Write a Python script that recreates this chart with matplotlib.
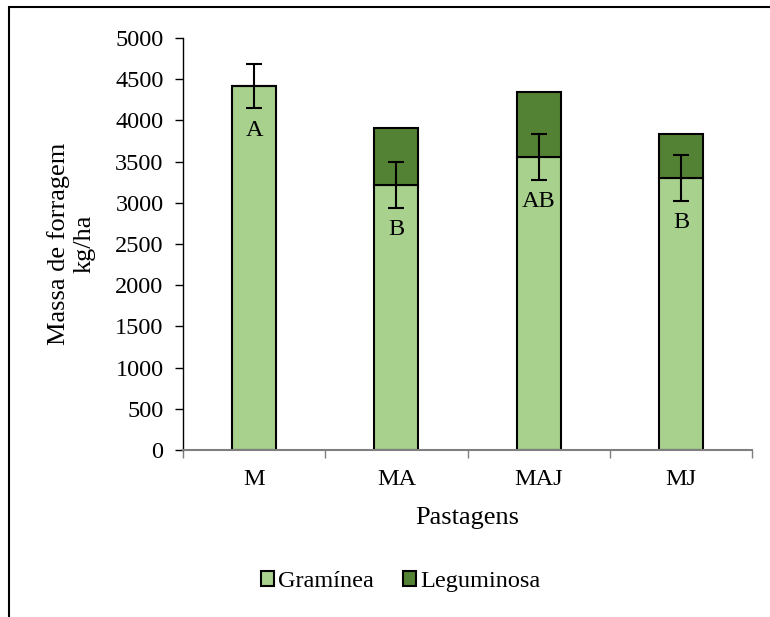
import numpy as np
import matplotlib.pyplot as plt
from matplotlib.patches import Rectangle

# Dados
pastagens = ['M', 'MA', 'MAJ', 'MJ']
graminea = [4420, 3220, 3560, 3300]
leguminosa = [0, 690, 790, 530]
erro = [270, 280, 280, 275]
letras = ['A', 'B', 'AB', 'B']

plt.rcParams['font.family'] = ['Liberation Serif', 'DejaVu Serif']

fig = plt.figure(figsize=(7.7, 6.17), dpi=100)
ax = fig.add_axes([0.2377, 0.2707, 0.739, 0.6677])

x = np.arange(len(pastagens))
w = 0.31
ax.bar(x, graminea, w, color='#A9D18E', edgecolor='black', linewidth=1.5,
       label='Gramínea', zorder=2)
ax.bar(x, leguminosa, w, bottom=graminea, color='#548235', edgecolor='black',
       linewidth=1.5, label='Leguminosa', zorder=2)
ax.errorbar(x, graminea, yerr=erro, fmt='none', ecolor='black', elinewidth=1.5,
            capsize=6, capthick=1.5, zorder=3)

for xi, g, e, l in zip(x, graminea, erro, letras):
    ax.text(xi, g - e - 270, l, ha='center', va='center', fontsize=17.5)

ax.set_xlim(-0.5, len(pastagens) - 0.5)
ax.set_ylim(0, 5000)
ax.set_yticks(np.arange(0, 5001, 500))
ax.set_xticks(x)
ax.set_xticklabels(pastagens)
ax.set_xticks(np.arange(-0.5, len(pastagens)), minor=True)
ax.tick_params(axis='x', which='major', length=0, pad=14, labelsize=17.5)
ax.tick_params(axis='x', which='minor', length=6, width=1, color='#7f7f7f')
ax.tick_params(axis='y', length=6, width=1, labelsize=17.5, pad=8)

for s in ['top', 'right']:
    ax.spines[s].set_visible(False)
ax.spines['bottom'].set_color('#7f7f7f')
ax.spines['bottom'].set_linewidth(1.5)
ax.spines['left'].set_linewidth(1)

ax.set_xlabel('Pastagens', fontsize=19, labelpad=12)
ax.set_ylabel('Massa de forragem\nkg/ha', fontsize=19, labelpad=14)

ax.legend(loc='center', bbox_to_anchor=(0.52, 0.057), bbox_transform=fig.transFigure,
          ncol=2, frameon=False, fontsize=17.5, handlelength=0.55, handleheight=0.55,
          handletextpad=0.15, columnspacing=1.2)

# moldura
fig.patches.append(Rectangle((9 / 770, -0.5), 2, 0.5 + 1 - 7 / 617,
                             transform=fig.transFigure, fill=False,
                             edgecolor='black', linewidth=1.5))

plt.savefig('out.png', dpi=100)
